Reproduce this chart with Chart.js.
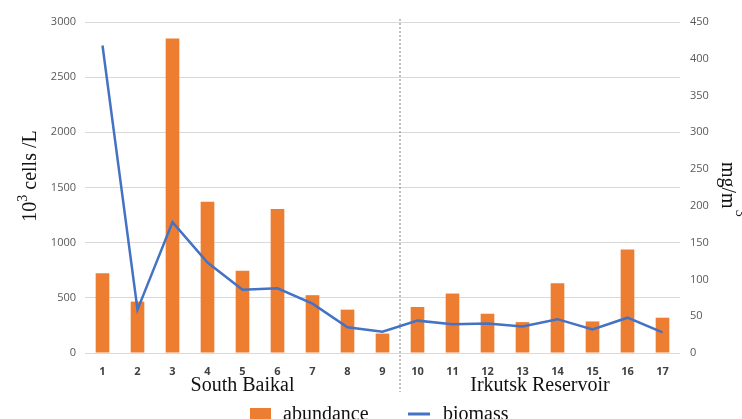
<!DOCTYPE html>
<html>
<head>
<meta charset="utf-8">
<script src="https://cdn.jsdelivr.net/npm/chart.js@4"></script>
<style>
  html, body { margin: 0; padding: 0; background: #fff; }
  #wrap { width: 742px; height: 419px; position: relative; }
</style>
</head>
<body>
<div id="wrap"><canvas id="chart"></canvas></div>
<script>
// data
var stations = ['1', '2', '3', '4', '5', '6', '7', '8', '9', '10', '11', '12', '13', '14', '15', '16', '17'];
var abundance = [722, 466, 2850, 1370, 746, 1305, 524, 393, 176, 417, 539, 356, 280, 633, 286, 938, 320];
var biomass = [418, 59, 178, 123, 86, 88, 67, 35, 29, 44, 39, 40, 36, 46, 32, 48, 28];
var groups = [
  { label: 'South Baikal', from: 0, to: 8 },
  { label: 'Irkutsk Reservoir', from: 9, to: 16 }
];

var serif = '"Liberation Serif", "DejaVu Serif", serif';
var sans = '"Open Sans", "Liberation Sans", sans-serif';

// extra drawing: divider, group names, axis titles, legend
var extras = {
  id: 'extras',
  afterDraw: function (chart) {
    var ctx = chart.ctx;
    var x = chart.scales.x;
    var area = chart.chartArea;
    ctx.save();

    // dashed divider between station 9 and 10
    var xd = (x.getPixelForValue(8) + x.getPixelForValue(9)) / 2;
    ctx.strokeStyle = '#7f7f7f';
    ctx.lineWidth = 1;
    ctx.setLineDash([2, 2]);
    ctx.beginPath();
    ctx.moveTo(xd, area.top - 3);
    ctx.lineTo(xd, 392);
    ctx.stroke();
    ctx.setLineDash([]);

    // group names
    ctx.fillStyle = '#111';
    ctx.font = '20px ' + serif;
    ctx.textAlign = 'center';
    ctx.textBaseline = 'alphabetic';
    groups.forEach(function (g) {
      var cx = (x.getPixelForValue(g.from) + x.getPixelForValue(g.to)) / 2;
      ctx.fillText(g.label, cx, 391);
    });

    // left title: 10^3 cells /L
    ctx.save();
    ctx.translate(36, 176);
    ctx.rotate(-Math.PI / 2);
    ctx.textAlign = 'left';
    var big = '20px ' + serif, small = '14px ' + serif;
    ctx.font = big;
    var w1 = ctx.measureText('10').width;
    ctx.font = small;
    var w2 = ctx.measureText('3').width;
    ctx.font = big;
    var w3 = ctx.measureText(' cells /L').width;
    var sx = -(w1 + w2 + w3) / 2;
    ctx.fillText('10', sx, 0);
    ctx.font = small;
    ctx.fillText('3', sx + w1, -9);
    ctx.font = big;
    ctx.fillText(' cells /L', sx + w1 + w2, 0);
    ctx.restore();

    // right title: mg/m^3 (superscript runs off the edge, as in the original)
    ctx.save();
    ctx.translate(722, 162);
    ctx.rotate(Math.PI / 2);
    ctx.textAlign = 'left';
    ctx.font = big;
    var wm = ctx.measureText('mg/m').width;
    ctx.fillText('mg/m', 0, 0);
    ctx.font = small;
    ctx.fillText('3', wm + 1, -14);
    ctx.restore();

    // legend
    ctx.font = big;
    ctx.textAlign = 'left';
    ctx.fillStyle = chart.data.datasets[1].backgroundColor;
    ctx.fillRect(250, 408, 21, 14);
    ctx.fillStyle = '#111';
    ctx.fillText(chart.data.datasets[1].label, 283, 420);
    ctx.strokeStyle = chart.data.datasets[0].borderColor;
    ctx.lineWidth = 3;
    ctx.beginPath();
    ctx.moveTo(408, 414);
    ctx.lineTo(430, 414);
    ctx.stroke();
    ctx.fillText(chart.data.datasets[0].label, 443, 420);

    ctx.restore();
  }
};

function plain(v) { return String(v); }

new Chart(document.getElementById('chart'), {
  data: {
    labels: stations,
    datasets: [{
      type: 'line',
      label: 'biomass',
      data: biomass,
      yAxisID: 'y2',
      borderColor: '#4472C4',
      backgroundColor: '#4472C4',
      borderWidth: 2.5,
      pointRadius: 0,
      tension: 0,
      order: 0
    }, {
      type: 'bar',
      label: 'abundance',
      data: abundance,
      yAxisID: 'y',
      backgroundColor: '#ED7D31',
      barPercentage: 0.39,
      categoryPercentage: 1,
      order: 1
    }]
  },
  options: {
    responsive: true,
    maintainAspectRatio: false,
    animation: false,
    layout: { padding: { top: 22, left: 0, right: 0, bottom: 0 } },
    plugins: {
      legend: { display: false },
      tooltip: { enabled: false }
    },
    scales: {
      x: {
        grid: { display: false },
        border: { display: false },
        ticks: {
          color: '#404040',
          font: { family: sans, size: 11, weight: 'bold' },
          maxRotation: 0,
          padding: 4
        },
        afterFit: function (s) { s.height = 66; }
      },
      y: {
        position: 'left',
        min: 0,
        max: 3000,
        ticks: {
          stepSize: 500,
          color: '#595959',
          font: { family: sans, size: 11 },
          padding: 9,
          callback: plain
        },
        grid: { color: '#d9d9d9', drawTicks: false },
        border: { display: false },
        afterFit: function (s) { s.width = 85; }
      },
      y2: {
        position: 'right',
        min: 0,
        max: 450,
        ticks: {
          stepSize: 50,
          color: '#595959',
          font: { family: sans, size: 11 },
          padding: 10,
          callback: plain
        },
        grid: { display: false, drawTicks: false },
        border: { display: false },
        afterFit: function (s) { s.width = 62; }
      }
    }
  },
  plugins: [extras]
});
</script>
</body>
</html>
